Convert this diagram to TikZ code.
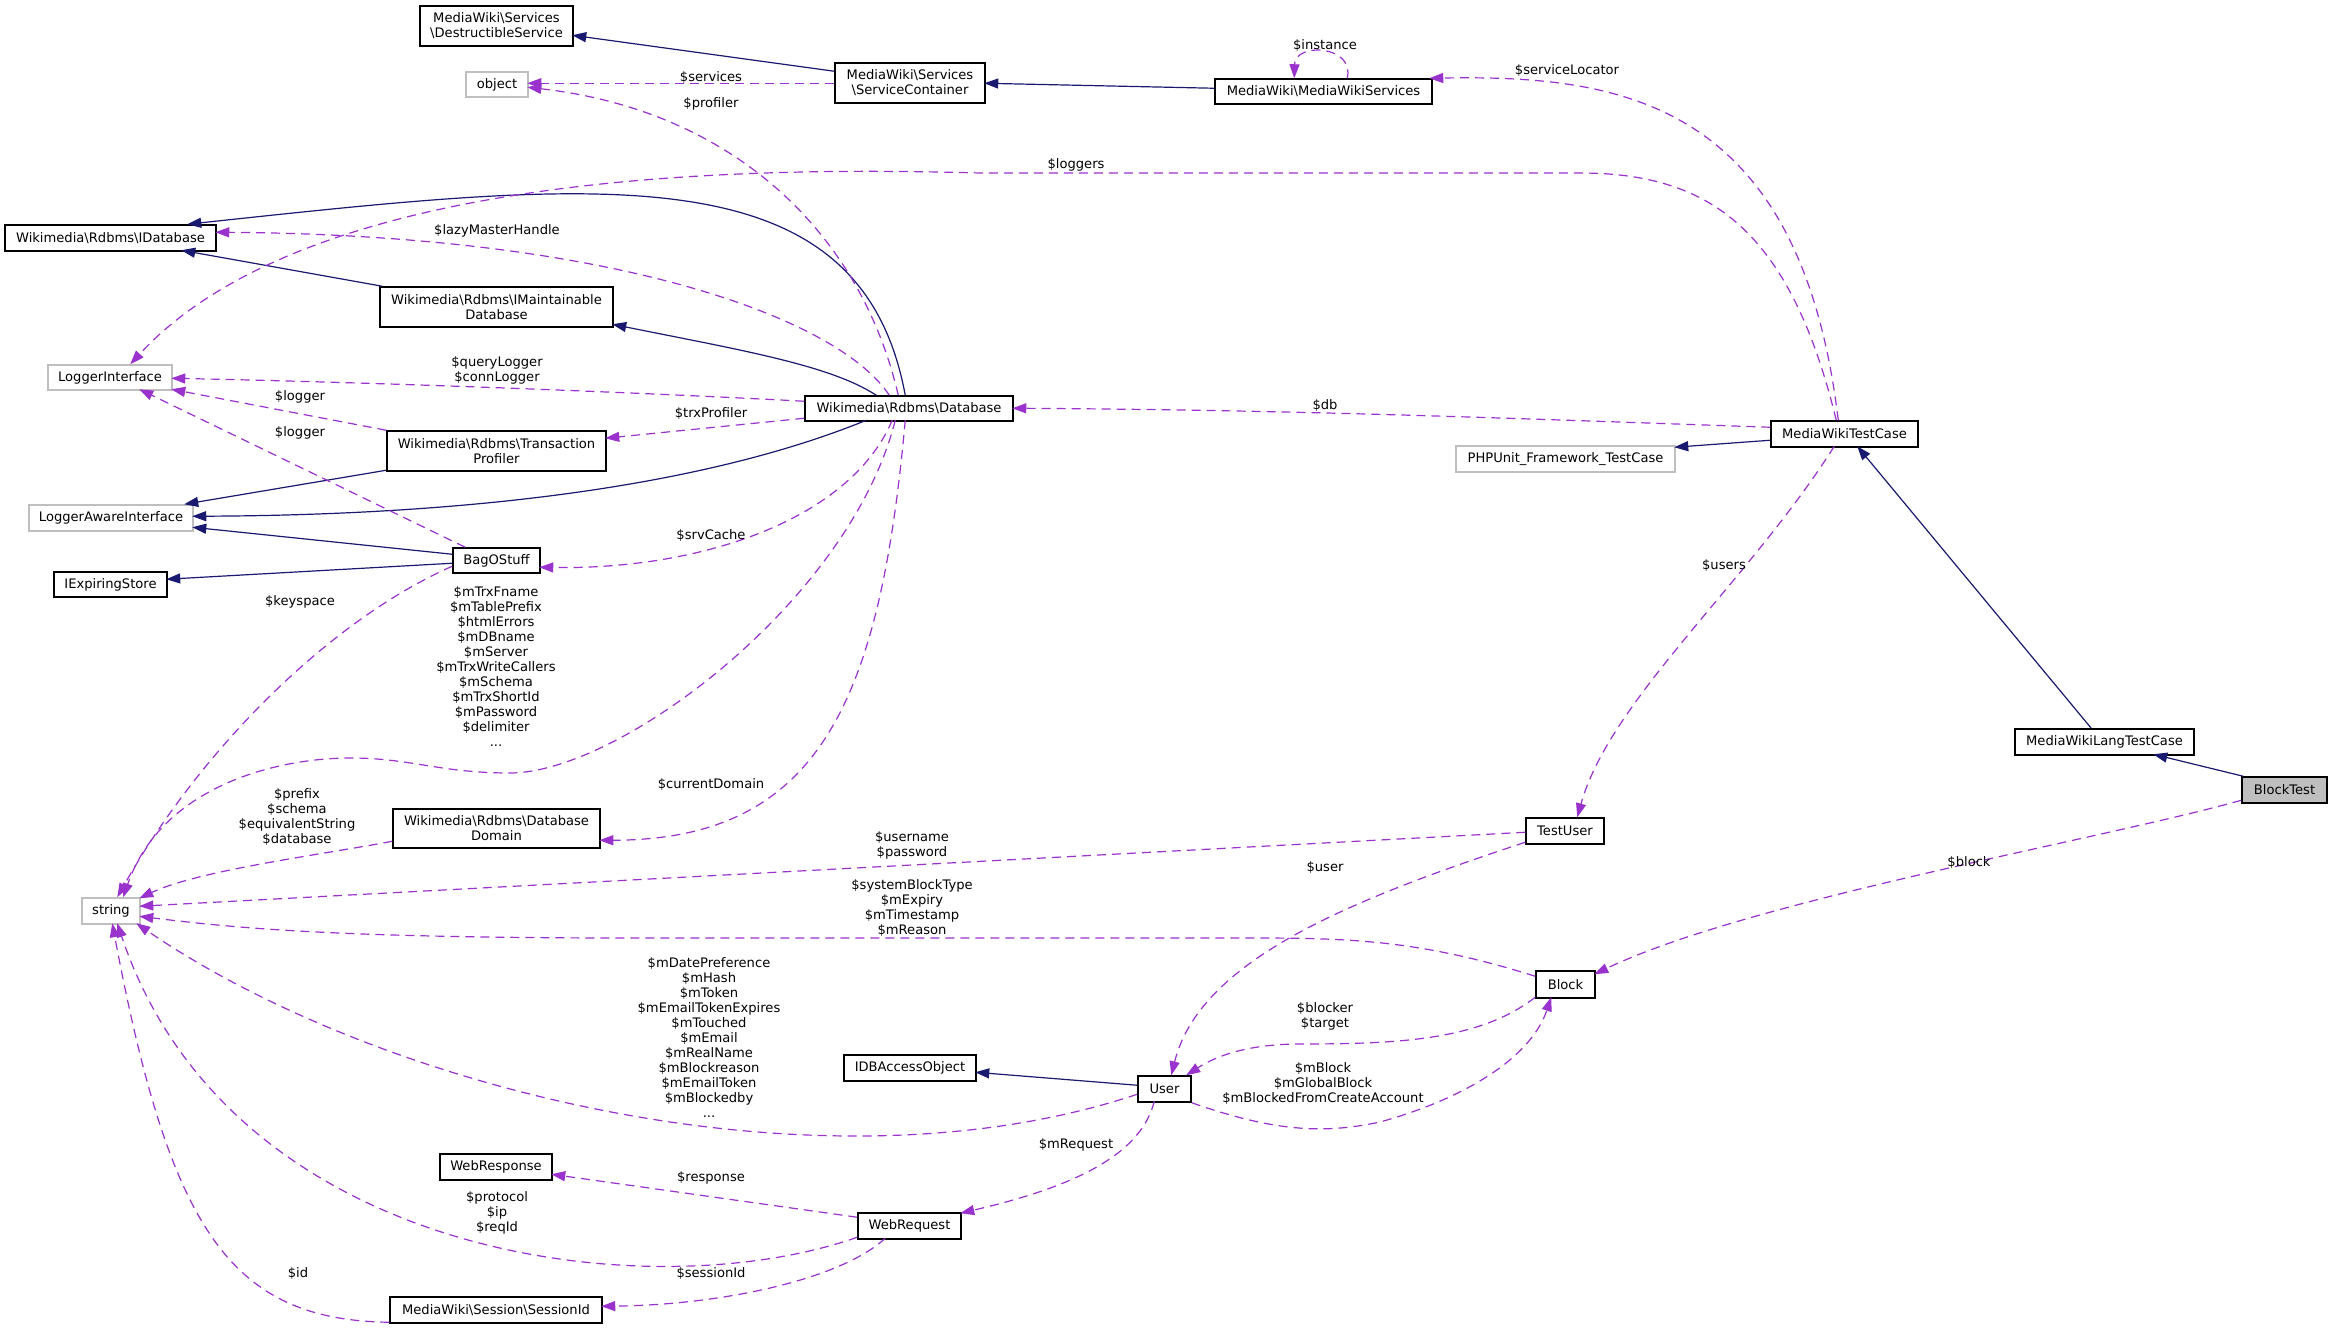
\documentclass[tikz,border=0pt]{standalone}
\usepackage{fontspec}
\setmainfont{DejaVu Sans}
\usetikzlibrary{arrows.meta,calc}
\definecolor{navy}{HTML}{191970}
\definecolor{orch}{HTML}{9A32CD}
\definecolor{extgray}{HTML}{BFBFBF}
\newcommand{\bksl}{\textbackslash}
\begin{document}
\begin{tikzpicture}[x=1pt,y=-1pt,
 every node/.style={font=\fontsize{13.1}{15}\selectfont},
 box/.style={draw=black,line width=1.5pt,fill=white,inner sep=0pt,align=center},
 extbox/.style={box,draw=extgray},
 inh/.style={draw=navy,line width=1.2pt,-{Triangle[length=14pt,width=10pt]}},
 coll/.style={draw=orch,line width=1.2pt,dash pattern=on 9pt off 6pt,-{Triangle[length=14pt,width=10pt]}},
 lbl/.style={inner sep=0pt,align=center}]
\fill[white] (0,0) rectangle (2332,1329);
\useasboundingbox (0,0) rectangle (2332,1329);

% nodes
\node[box,minimum width=153pt,minimum height=40pt] (dsvc) at (496.5,26) {MediaWiki\bksl Services\\\bksl DestructibleService};
\node[extbox,minimum width=62pt,minimum height=25pt] (obj) at (497,84.5) {object};
\node[box,minimum width=150pt,minimum height=40pt] (svcc) at (910,83) {MediaWiki\bksl Services\\\bksl ServiceContainer};
\node[box,minimum width=217pt,minimum height=25pt] (mws) at (1323.5,91.5) {MediaWiki\bksl MediaWikiServices};
\node[box,minimum width=211pt,minimum height=26pt] (idb) at (110.5,238) {Wikimedia\bksl Rdbms\bksl IDatabase};
\node[box,minimum width=233pt,minimum height=40pt] (imdb) at (496.5,307) {Wikimedia\bksl Rdbms\bksl IMaintainable\\Database};
\node[extbox,minimum width=124pt,minimum height=25pt] (logi) at (110,377.5) {LoggerInterface};
\node[box,minimum width=208pt,minimum height=25pt] (db) at (909,408.5) {Wikimedia\bksl Rdbms\bksl Database};
\node[box,minimum width=219pt,minimum height=40pt] (trx) at (496.5,451) {Wikimedia\bksl Rdbms\bksl Transaction\\Profiler};
\node[extbox,minimum width=164pt,minimum height=26pt] (lai) at (111,518) {LoggerAwareInterface};
\node[box,minimum width=87pt,minimum height=25pt] (bag) at (496.5,560.5) {BagOStuff};
\node[box,minimum width=113pt,minimum height=25pt] (iexp) at (110.5,584.5) {IExpiringStore};
\node[box,minimum width=207pt,minimum height=39pt] (dd) at (496.5,828.5) {Wikimedia\bksl Rdbms\bksl Database\\Domain};
\node[extbox,minimum width=58pt,minimum height=26pt] (str) at (111,911) {string};
\node[box,minimum width=147pt,minimum height=26pt] (mwtc) at (1844.5,434) {MediaWikiTestCase};
\node[extbox,minimum width=219pt,minimum height=26pt] (phpu) at (1565.5,459) {PHPUnit\_Framework\_TestCase};
\node[box,minimum width=179pt,minimum height=26pt] (mwltc) at (2104.5,742) {MediaWikiLangTestCase};
\node[box,fill=extgray,minimum width=85pt,minimum height=26pt] (bt) at (2284.5,790) {BlockTest};
\node[box,minimum width=78pt,minimum height=26pt] (tu) at (1565,831) {TestUser};
\node[box,minimum width=59pt,minimum height=27pt] (blk) at (1565.5,984.5) {Block};
\node[box,minimum width=53pt,minimum height=26pt] (usr) at (1164.5,1089) {User};
\node[box,minimum width=132pt,minimum height=26pt] (idbao) at (910,1068) {IDBAccessObject};
\node[box,minimum width=112pt,minimum height=26pt] (wresp) at (496,1167) {WebResponse};
\node[box,minimum width=103pt,minimum height=26pt] (wreq) at (909.5,1226) {WebRequest};
\node[box,minimum width=212pt,minimum height=26pt] (sess) at (496,1310) {MediaWiki\bksl Session\bksl SessionId};

% inheritance
\draw[inh] ($(svcc.north west)+(0,9)$) -- ($(dsvc.north west)+(153,30)$);
\draw[inh] ($(mws.north west)+(0,10)$) -- ($(svcc.north west)+(150,21)$);
\draw[inh] ($(db.north west)+(101,0)$) .. controls (860,150) and (600,180) .. ($(idb.north west)+(183,0)$);
\draw[inh] ($(imdb.north west)+(3,0)$) -- ($(idb.north west)+(177,26)$);
\draw[inh] ($(db.north west)+(72,0)$) .. controls (830,365) and (740,350) .. ($(imdb.north west)+(233,38)$);
\draw[inh] ($(trx.north west)+(0,40)$) -- ($(lai.north west)+(156,0)$);
\draw[inh] ($(db.north west)+(62,25)$) .. controls (720,480) and (500,515) .. ($(lai.north west)+(164,12)$);
\draw[inh] ($(bag.north west)+(0,7)$) -- ($(lai.north west)+(164,23)$);
\draw[inh] ($(bag.north west)+(0,16)$) -- ($(iexp.north west)+(113,8)$);
\draw[inh] ($(mwtc.north west)+(0,20)$) -- ($(phpu.north west)+(219,2)$);
\draw[inh] ($(mwltc.north west)+(77,0)$) -- ($(mwtc.north west)+(87,26)$);
\draw[inh] ($(bt.north west)+(2,0)$) -- ($(mwltc.north west)+(139,26)$);
\draw[inh] ($(usr.north west)+(0,10)$) -- ($(idbao.north west)+(132,18)$);

% collaboration
\draw[coll] ($(svcc.north west)+(0,21)$) -- ($(obj.north west)+(62,12)$);
\node[lbl] at (711,77) {\$services};
\draw[coll] ($(db.north west)+(94,0)$) .. controls (860,230) and (730,110) .. ($(obj.north west)+(62,16)$);
\node[lbl] at (711,104) {\$profiler};
\draw[coll] ($(mws.north west)+(133,0)$) .. controls (1355,45) and (1295,42) .. ($(mws.north west)+(80,0)$);
\node[lbl] at (1325,45) {\$instance};
\draw[coll] ($(mwtc.north west)+(68,0)$) .. controls (1800,100) and (1620,75) .. ($(mws.north west)+(215,0)$);
\node[lbl] at (1567,70) {\$serviceLocator};
\draw[coll] ($(mwtc.north west)+(66,0)$) .. controls (1790,230) and (1710,173) .. (1580,173) -- (980,173) .. controls (700,165) and (300,180) .. ($(logi.north west)+(83,0)$);
\node[lbl] at (1076,165) {\$loggers};
\draw[coll] ($(db.north west)+(85,0)$) .. controls (840,320) and (620,235) .. ($(idb.north west)+(211,8)$);
\node[lbl] at (497,231) {\$lazyMasterHandle};
\draw[coll] ($(db.north west)+(0,6)$) .. controls (650,393) and (400,383) .. ($(logi.north west)+(124,14)$);
\node[lbl] at (497,370) {\$queryLogger\\\$connLogger};
\draw[coll] (trx.north west) -- ($(logi.north west)+(124,25)$);
\node[lbl] at (300,397) {\$logger};
\draw[coll] ($(bag.north west)+(13,0)$) -- ($(logi.north west)+(92,25)$);
\node[lbl] at (300,433) {\$logger};
\draw[coll] ($(db.north west)+(0,23)$) -- ($(trx.north west)+(219,8)$);
\node[lbl] at (711,413) {\$trxProfiler};
\draw[coll] ($(db.north west)+(88,25)$) .. controls (850,520) and (700,570) .. ($(bag.north west)+(87,20)$);
\node[lbl] at (711,535) {\$srvCache};
\draw[coll] ($(db.north west)+(91,25)$) .. controls (850,600) and (620,773) .. (510,773) .. controls (440,773) and (410,758) .. (351,758) .. controls (270,758) and (160,790) .. ($(str.north west)+(42,0)$);
\node[lbl] at (496,666.5) {\$mTrxFname\\\$mTablePrefix\\\$htmlErrors\\\$mDBname\\\$mServer\\\$mTrxWriteCallers\\\$mSchema\\\$mTrxShortId\\\$mPassword\\\$delimiter\\...};
\draw[coll] ($(bag.north west)+(0,19)$) .. controls (330,620) and (200,750) .. ($(str.north west)+(36,0)$);
\node[lbl] at (300,602) {\$keyspace};
\draw[coll] ($(db.north west)+(101,25)$) .. controls (880,700) and (820,840) .. ($(dd.north west)+(207,32)$);
\node[lbl] at (711,784) {\$currentDomain};
\draw[coll] ($(dd.north west)+(0,33)$) .. controls (320,855) and (200,870) .. ($(str.north west)+(58,1)$);
\node[lbl] at (297,816.5) {\$prefix\\\$schema\\\$equivalentString\\\$database};
\draw[coll] ($(tu.north west)+(0,15)$) -- ($(str.north west)+(58,9)$);
\node[lbl] at (912,845.5) {\$username\\\$password};
\draw[coll] ($(blk.north west)+(0,6)$) .. controls (1420,940) and (1350,938) .. (1250,938) -- (600,938) .. controls (350,937) and (250,930) .. ($(str.north west)+(58,19)$);
\node[lbl] at (912,908) {\$systemBlockType\\\$mExpiry\\\$mTimestamp\\\$mReason};
\draw[coll] ($(usr.north west)+(0,19)$) .. controls (820,1200) and (380,1090) .. ($(str.north west)+(55,26)$);
\node[lbl] at (709,1037.5) {\$mDatePreference\\\$mHash\\\$mToken\\\$mEmailTokenExpires\\\$mTouched\\\$mEmail\\\$mRealName\\\$mBlockreason\\\$mEmailToken\\\$mBlockedby\\...};
\draw[coll] ($(wreq.north west)+(0,25)$) .. controls (650,1310) and (230,1260) .. ($(str.north west)+(36,26)$);
\node[lbl] at (497,1213) {\$protocol\\\$ip\\\$reqId};
\draw[coll] ($(sess.north west)+(0,26)$) .. controls (230,1320) and (170,1230) .. ($(str.north west)+(31,26)$);
\node[lbl] at (298,1273) {\$id};
\draw[coll] ($(wreq.north west)+(0,5)$) -- ($(wresp.north west)+(112,21)$);
\node[lbl] at (711,1178) {\$response};
\draw[coll] ($(wreq.north west)+(28,26)$) .. controls (840,1280) and (720,1305) .. ($(sess.north west)+(212,10)$);
\node[lbl] at (711,1273) {\$sessionId};
\draw[coll] ($(usr.north west)+(17,26)$) .. controls (1140,1160) and (1060,1190) .. ($(wreq.north west)+(103,1)$);
\node[lbl] at (1076,1145) {\$mRequest};
\draw[coll] ($(mwtc.north west)+(64,26)$) .. controls (1750,580) and (1610,700) .. ($(tu.north west)+(52,0)$);
\node[lbl] at (1724,565) {\$users};
\draw[coll] ($(tu.north west)+(0,25)$) .. controls (1350,900) and (1200,960) .. ($(usr.north west)+(34,0)$);
\node[lbl] at (1325,867) {\$user};
\draw[coll] ($(blk.north west)+(0,27)$) .. controls (1480,1040) and (1400,1044) .. (1300,1044) .. controls (1240,1044) and (1210,1060) .. ($(usr.north west)+(49,0)$);
\node[lbl] at (1325,1016) {\$blocker\\\$target};
\draw[coll] (usr.south east) .. controls (1270,1130) and (1320,1135) .. (1380,1122) .. controls (1460,1100) and (1530,1060) .. ($(blk.north west)+(16,27)$);
\node[lbl] at (1323,1083) {\$mBlock\\\$mGlobalBlock\\\$mBlockedFromCreateAccount};
\draw[coll] ($(bt.north west)+(0,24)$) .. controls (2100,840) and (1750,900) .. ($(blk.north west)+(59,4)$);
\node[lbl] at (1969,862) {\$block};
\draw[coll] ($(mwtc.north west)+(0,7)$) .. controls (1500,418) and (1300,410) .. ($(db.north west)+(208,13)$);
\node[lbl] at (1325,405) {\$db};
\end{tikzpicture}
\end{document}
